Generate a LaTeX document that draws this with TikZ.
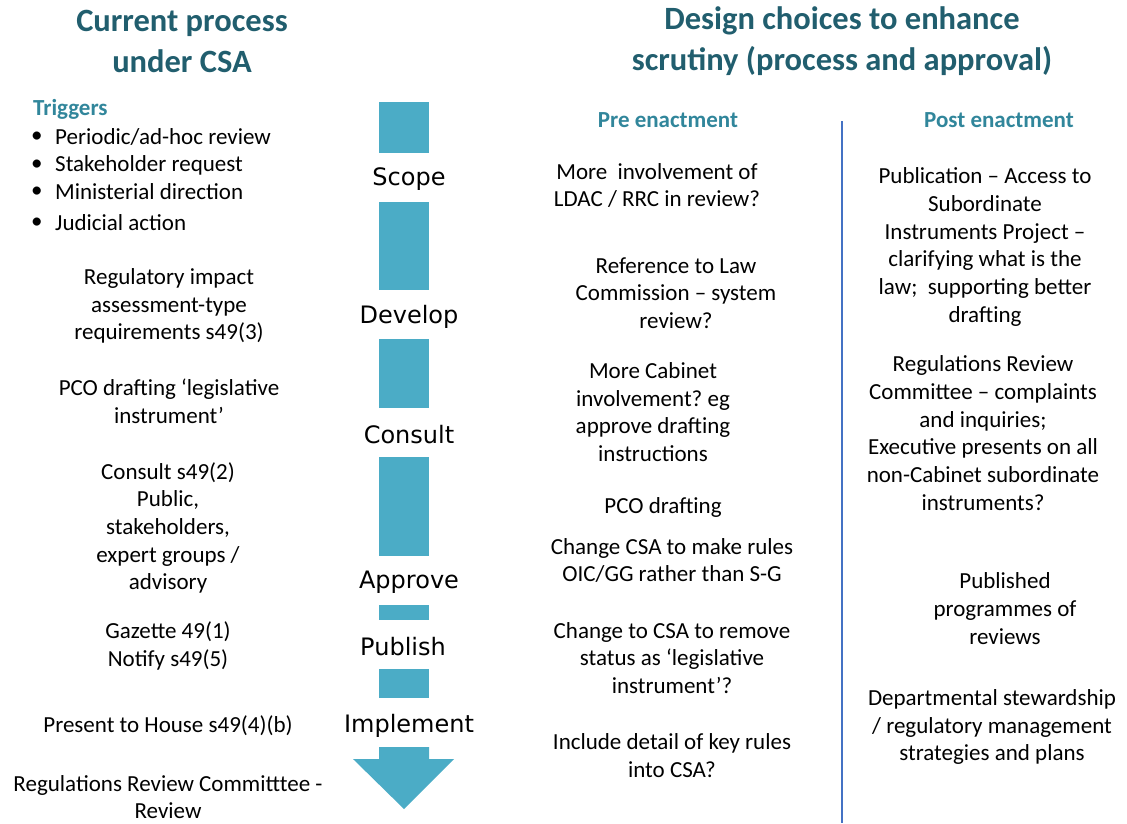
\documentclass[tikz,border=0pt]{standalone}
\usepackage{fontspec}
\setmainfont{Carlito}
\newfontfamily\stagefont{DejaVu Sans}
\definecolor{titleteal}{HTML}{215E6E}
\definecolor{subteal}{HTML}{31869B}
\definecolor{barblue}{HTML}{4BACC6}
\definecolor{lineblue}{HTML}{4472C4}
\frenchspacing
\begin{document}
\begin{tikzpicture}[x=1pt,y=-1pt,
  txt/.style={font=\fontsize{23}{27.7}\selectfont, align=center, inner sep=0pt},
  lefttxt/.style={font=\fontsize{23}{27.7}\selectfont, anchor=west, inner sep=0pt},
  title/.style={font=\fontsize{32.5}{41}\selectfont\bfseries, text=titleteal, align=center, inner sep=0pt},
  subhead/.style={font=\fontsize{23}{27.7}\selectfont\bfseries, text=subteal, inner sep=0pt},
  stage/.style={font=\stagefont\fontsize{24}{28}\selectfont, inner sep=0pt},
  bar/.style={fill=barblue, draw=none}]
\useasboundingbox (0,0) rectangle (1127,823);

% titles
\node[title] (t1) at (182,41) {Current process\\under CSA};
\node[title] (t2) at (842,41) {Design choices to enhance\\scrutiny (process and approval)};

% left column
\node[subhead, anchor=west] (trig) at (33,109.5) {Triggers};
\node[lefttxt] (b1) at (31,137) {•};
\node[lefttxt] (b2) at (31,165) {•};
\node[lefttxt] (b3) at (31,192) {•};
\node[lefttxt] (b4) at (31,223) {•};
\node[lefttxt] (l1) at (55,137) {Periodic/ad-hoc review};
\node[lefttxt] (l2) at (55,165) {Stakeholder request};
\node[lefttxt] (l3) at (55,192) {Ministerial direction};
\node[lefttxt] (l4) at (55,223) {Judicial action};

\node[txt] (ria) at (169,306) {Regulatory impact\\assessment-type\\requirements s49(3)};
\node[txt] (pco) at (169,401) {PCO drafting ‘legislative\\instrument’};
\node[txt] (cons) at (168,528) {Consult s49(2)\\Public,\\stakeholders,\\expert groups /\\advisory};
\node[txt] (gaz) at (168,646) {Gazette 49(1)\\Notify s49(5)};
\node[txt] (pres) at (168,726) {Present to House s49(4)(b)};
\node[txt] (rrc) at (168,797) {Regulations Review Committtee -\\Review};

% central arrow
\fill[bar] (379,102) rectangle (429,153);
\fill[bar] (379,202) rectangle (429,290);
\fill[bar] (379,339) rectangle (429,408);
\fill[bar] (379,457) rectangle (429,556);
\fill[bar] (379,605) rectangle (429,620);
\fill[bar] (379,669) rectangle (429,698);
\fill[bar] (379,747) -- (429,747) -- (429,759) -- (454,759) -- (404,809) -- (353,759) -- (379,759) -- cycle;

\node[stage] (s1) at (409,179.5) {Scope};
\node[stage] (s2) at (409,316.5) {Develop};
\node[stage] (s3) at (409,434.5) {Consult};
\node[stage] (s4) at (409,582.5) {Approve};
\node[stage] (s5) at (403,646.5) {Publish};
\node[stage] (s6) at (409,725.5) {Implement};

% divider
\draw[lineblue, line width=1.6pt] (842,121) -- (842,823);

% pre enactment
\node[subhead] (pre) at (668,120.5) {Pre enactment};
\node[txt] (p1) at (657,185.5) {More\ \ involvement of\\LDAC / RRC in review?};
\node[txt] (p2) at (676,293) {Reference to Law\\Commission – system\\review?};
\node[txt] (p3) at (653,412) {More Cabinet\\involvement? eg\\approve drafting\\instructions};
\node[txt] (p4) at (663,507) {PCO drafting};
\node[txt] (p5) at (672,560.5) {Change CSA to make rules\\OIC/GG rather than S-G};
\node[txt] (p6) at (672,658) {Change to CSA to remove\\status as ‘legislative\\instrument’?};
\node[txt] (p7) at (672,755.5) {Include detail of key rules\\into CSA?};

% post enactment
\node[subhead] (post) at (999,120.5) {Post enactment};
\node[txt] (q1) at (985,247) {Publication – Access to\\Subordinate\\Instruments Project –\\clarifying what is the\\law;\ \ supporting better\\drafting};
\node[txt] (q2) at (983,433) {Regulations Review\\Committee – complaints\\and inquiries;\\Executive presents on all\\non-Cabinet subordinate\\instruments?};
\node[txt] (q3) at (1005,608.5) {Published\\programmes of\\reviews};
\node[txt] (q4) at (992,727) {Departmental stewardship\\/ regulatory management\\strategies and plans};
\end{tikzpicture}
\end{document}
